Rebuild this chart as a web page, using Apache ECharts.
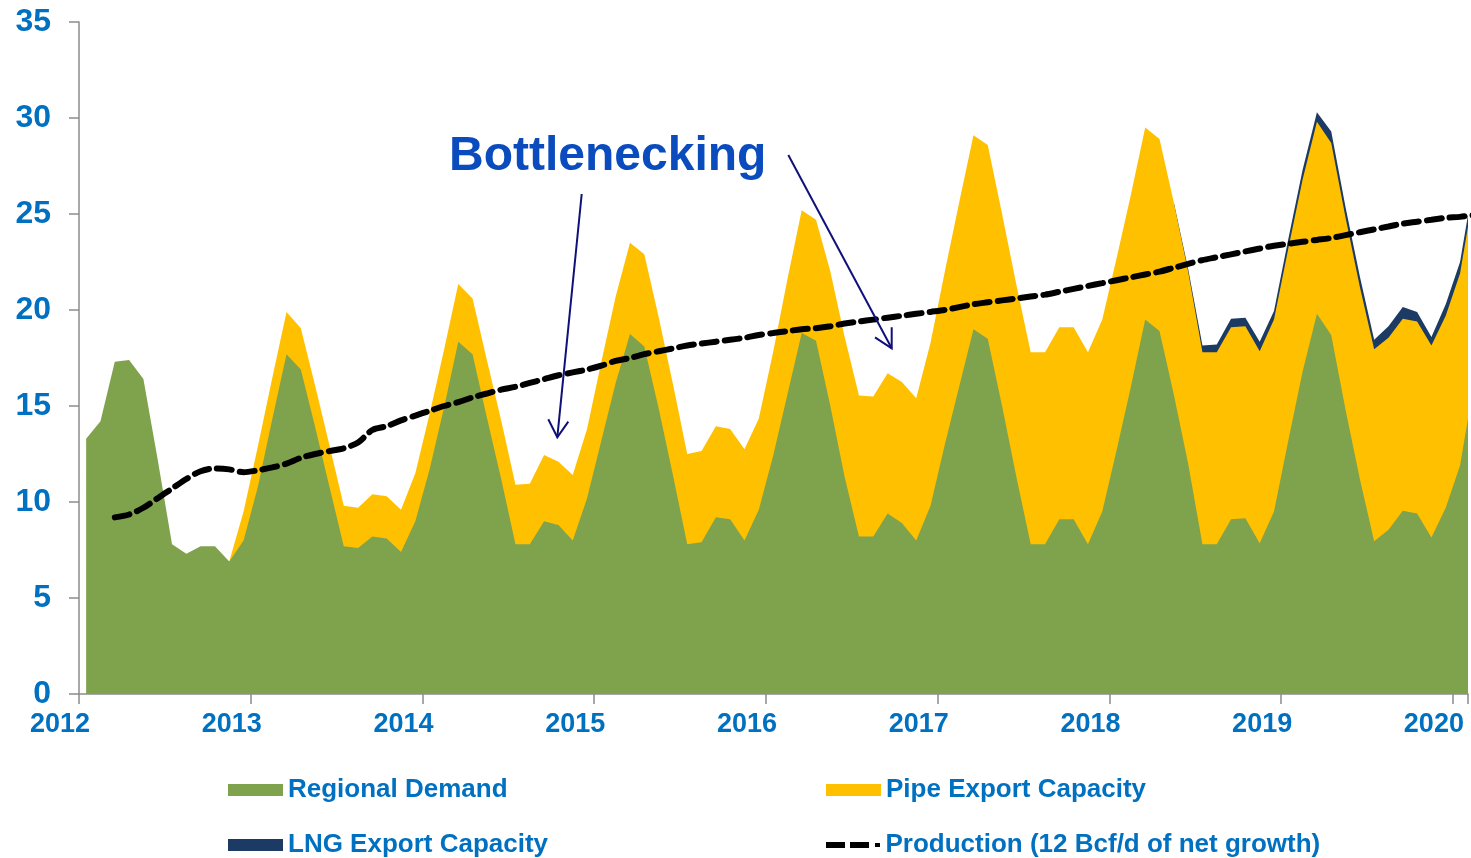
<!DOCTYPE html>
<html>
<head>
<meta charset="utf-8">
<title>Bottlenecking</title>
<script src="https://cdn.jsdelivr.net/npm/echarts@6.0.0/dist/echarts.min.js"></script>
<style>
  html, body { margin: 0; padding: 0; background: #fff; }
  #chart { width: 1471px; height: 858px; }
</style>
</head>
<body>
<div id="chart"></div>
<script>
// monthly values, Jan 2012 .. Feb 2020 (Bcf/d)
const startYear = 2012;
const yearLabels = [2012, 2013, 2014, 2015, 2016, 2017, 2018, 2019, 2020];

const regionalDemand = [
  13.3, 14.2, 17.3, 17.4, 16.4, 12.2, 7.8, 7.3, 7.7, 7.7, 6.9, 8.0,
  10.8, 14.3, 17.7, 16.9, 13.9, 10.8, 7.7, 7.6, 8.2, 8.1, 7.4, 9.0,
  11.7, 14.9, 18.35, 17.7, 14.4, 11.2, 7.8, 7.8, 9.0, 8.8, 8.0, 10.2,
  13.2, 16.2, 18.75, 18.1, 14.9, 11.4, 7.8, 7.9, 9.2, 9.1, 8.0, 9.6,
  12.4, 15.6, 18.8, 18.4, 15.0, 11.3, 8.2, 8.2, 9.4, 8.9, 8.0, 9.8,
  13.0, 16.0, 19.0, 18.5, 15.0, 11.3, 7.8, 7.8, 9.1, 9.1, 7.8, 9.5,
  12.7, 16.0, 19.5, 18.9, 15.6, 12.0, 7.8, 7.8, 9.1, 9.15, 7.85, 9.5,
  13.2, 16.8, 19.8, 18.7, 14.8, 11.2, 7.95, 8.55, 9.55, 9.4, 8.15, 9.7,
  11.9, 16.3
];

const pipeExport = [
  0, 0, 0, 0, 0, 0, 0, 0, 0, 0, 0, 1.5,
  2.1, 2.15, 2.2, 2.15, 2.15, 2.15, 2.1, 2.1, 2.2, 2.2, 2.2, 2.5,
  2.9, 3.0, 3.0, 2.9, 3.0, 3.05, 3.1, 3.15, 3.45, 3.3, 3.4, 3.6,
  4.1, 4.5, 4.75, 4.8, 4.75, 4.75, 4.7, 4.75, 4.75, 4.7, 4.75, 4.75,
  5.4, 6.0, 6.4, 6.3, 7.0, 7.3, 7.35, 7.3, 7.3, 7.35, 7.4, 8.5,
  9.0, 9.6, 10.1, 10.1, 10.0, 10.0, 10.0, 10.0, 10.0, 10.0, 10.0, 10.0,
  10.0, 10.0, 10.0, 10.0, 10.0, 10.0, 10.0, 10.0, 10.0, 10.0, 10.0, 10.0,
  10.0, 10.0, 10.0, 10.0, 10.0, 10.0, 10.0, 10.0, 10.0, 10.0, 10.0, 10.0,
  10.0, 10.0
];

const lngExport = [
  0, 0, 0, 0, 0, 0, 0, 0, 0, 0, 0, 0,
  0, 0, 0, 0, 0, 0, 0, 0, 0, 0, 0, 0,
  0, 0, 0, 0, 0, 0, 0, 0, 0, 0, 0, 0,
  0, 0, 0, 0, 0, 0, 0, 0, 0, 0, 0, 0,
  0, 0, 0, 0, 0, 0, 0, 0, 0, 0, 0, 0,
  0, 0, 0, 0, 0, 0, 0, 0, 0, 0, 0, 0,
  0, 0, 0, 0, 0, 0.15, 0.35, 0.4, 0.45, 0.45, 0.5, 0.45,
  0.5, 0.5, 0.5, 0.6, 0.55, 0.55, 0.5, 0.6, 0.6, 0.5, 0.45, 0.6,
  0.6, 0.6
];

const production = [
  null, null, 9.2, 9.35, 9.7, 10.2, 10.7, 11.2, 11.6, 11.75, 11.7, 11.55,
  11.65, 11.8, 12.0, 12.3, 12.5, 12.65, 12.8, 13.1, 13.75, 13.95, 14.25, 14.5,
  14.75, 15.0, 15.2, 15.45, 15.65, 15.85, 16.0, 16.2, 16.4, 16.6, 16.75, 16.9,
  17.1, 17.35, 17.5, 17.7, 17.85, 18.0, 18.15, 18.25, 18.35, 18.45, 18.55, 18.7,
  18.8, 18.9, 19.0, 19.05, 19.15, 19.3, 19.4, 19.5, 19.6, 19.7, 19.8, 19.9,
  20.0, 20.15, 20.3, 20.4, 20.5, 20.6, 20.7, 20.8, 20.95, 21.1, 21.25, 21.4,
  21.55, 21.7, 21.85, 22.0, 22.2, 22.4, 22.6, 22.75, 22.9, 23.05, 23.2, 23.35,
  23.45, 23.55, 23.65, 23.75, 23.9, 24.05, 24.2, 24.35, 24.5, 24.6, 24.7, 24.8,
  24.85, 24.95
];

const SANS = '"Liberation Sans", Arial, sans-serif';
const BLUE = '#0070C0';
const GREEN = '#7FA24C';
const GOLD = '#FFC000';
const NAVY = '#1B3A64';
const ARROW = '#10107A';

// mid-month position on a decimal-year axis
const monthX = (i) => startYear + (i + 0.5) / 12;

// stacked tops are drawn as overlapping areas (top layer last)
const pipeTop = regionalDemand.map((d, i) => d + pipeExport[i]);
const lngTop = pipeTop.map((p, i) => p + lngExport[i]);

// skip the stretch where a layer has zero thickness, so it doesn't leave a fringe
const layerData = (tops, layer) => tops.map((v, i) => {
  const visible = layer[i] > 0 || layer[i + 1] > 0;
  return [monthX(i), visible ? +v.toFixed(3) : '-'];
});

const chart = echarts.init(document.getElementById('chart'));

const legendText = { color: BLUE, fontSize: 26, fontWeight: 'bold', fontFamily: SANS };
const legendBox = (name, left, top, extra) => Object.assign({
  data: [{ name: name, icon: 'rect' }],
  left: left,
  top: top,
  itemWidth: 55,
  itemHeight: 12,
  selectedMode: false,
  textStyle: legendText
}, extra || {});

// dash - dash - dot marker like the original key
const dashIcon = 'path://M0,0h19v6h-19z M24,0h19v6h-19z M49,1h5v4h-5z';

const option = {
  backgroundColor: '#fff',
  animation: false,
  grid: { left: 79, right: 0, top: 22, bottom: 164, containLabel: false },
  xAxis: {
    type: 'value',
    min: yearLabels[0],
    max: 2020.088,
    interval: 1,
    splitLine: { show: false },
    axisLine: { lineStyle: { color: '#8C8C8C', width: 1.5 } },
    axisTick: { length: 10, lineStyle: { color: '#8C8C8C', width: 1.5 } },
    axisLabel: {
      color: BLUE,
      fontSize: 27,
      fontWeight: 'bold',
      fontFamily: SANS,
      margin: 17,
      padding: [0, 38, 0, 0],
      formatter: (v) => (yearLabels.indexOf(v) >= 0 ? String(v) : '')
    }
  },
  yAxis: {
    type: 'value',
    min: 0,
    max: 35,
    interval: 5,
    splitLine: { show: false },
    axisLine: { show: true, lineStyle: { color: '#8C8C8C', width: 1.5 } },
    axisTick: { show: true, length: 10, lineStyle: { color: '#8C8C8C', width: 1.5 } },
    axisLabel: { color: BLUE, fontSize: 32, fontWeight: 'bold', fontFamily: SANS, margin: 28 }
  },
  legend: [
    legendBox('Regional Demand', 223, 772),
    legendBox('Pipe Export Capacity', 821, 772),
    legendBox('LNG Export Capacity', 223, 827),
    legendBox('Production (12 Bcf/d of net growth)', 821, 827, {
      data: [{ name: 'Production (12 Bcf/d of net growth)', icon: dashIcon }],
      itemHeight: 6,
      itemStyle: { color: '#000' }
    })
  ],
  series: [
    {
      name: 'LNG Export Capacity',
      type: 'line',
      data: layerData(lngTop, lngExport),
      symbol: 'none',
      color: NAVY,
      lineStyle: { width: 0 },
      areaStyle: { color: NAVY, opacity: 1 },
      z: 1
    },
    {
      name: 'Pipe Export Capacity',
      type: 'line',
      data: layerData(pipeTop, pipeExport),
      symbol: 'none',
      color: GOLD,
      lineStyle: { width: 0 },
      areaStyle: { color: GOLD, opacity: 1 },
      z: 2
    },
    {
      name: 'Regional Demand',
      type: 'line',
      data: regionalDemand.map((v, i) => [monthX(i), v]),
      symbol: 'none',
      color: GREEN,
      lineStyle: { width: 0 },
      areaStyle: { color: GREEN, opacity: 1 },
      z: 3
    },
    {
      name: 'Production (12 Bcf/d of net growth)',
      type: 'line',
      data: production.map((v, i) => [monthX(i), v == null ? '-' : v]),
      symbol: 'none',
      smooth: 0.3,
      color: '#000',
      lineStyle: { color: '#000', width: 6, type: [15, 8], cap: 'round' },
      z: 4
    }
  ],
  graphic: [
    {
      type: 'text',
      x: 449,
      y: 157,
      style: {
        text: 'Bottlenecking',
        fill: '#0A4BBE',
        font: 'bold 48px ' + SANS,
        align: 'left',
        verticalAlign: 'middle'
      },
      z: 10
    },
    // arrow into the 2014 trough
    {
      type: 'line',
      shape: { x1: 581.7, y1: 194, x2: 557.3, y2: 437.3 },
      style: { stroke: ARROW, lineWidth: 2 },
      z: 10
    },
    {
      type: 'polyline',
      shape: { points: [[548.3, 419.3], [557.3, 437.3], [568.3, 421.7]] },
      style: { stroke: ARROW, lineWidth: 2, fill: null },
      z: 10
    },
    // arrow into the 2016 trough
    {
      type: 'line',
      shape: { x1: 788.3, y1: 155, x2: 891.7, y2: 348.3 },
      style: { stroke: ARROW, lineWidth: 2 },
      z: 10
    },
    {
      type: 'polyline',
      shape: { points: [[875, 337.3], [891.7, 348.3], [891.7, 327.3]] },
      style: { stroke: ARROW, lineWidth: 2, fill: null },
      z: 10
    }
  ]
};

chart.setOption(option);
</script>
</body>
</html>
